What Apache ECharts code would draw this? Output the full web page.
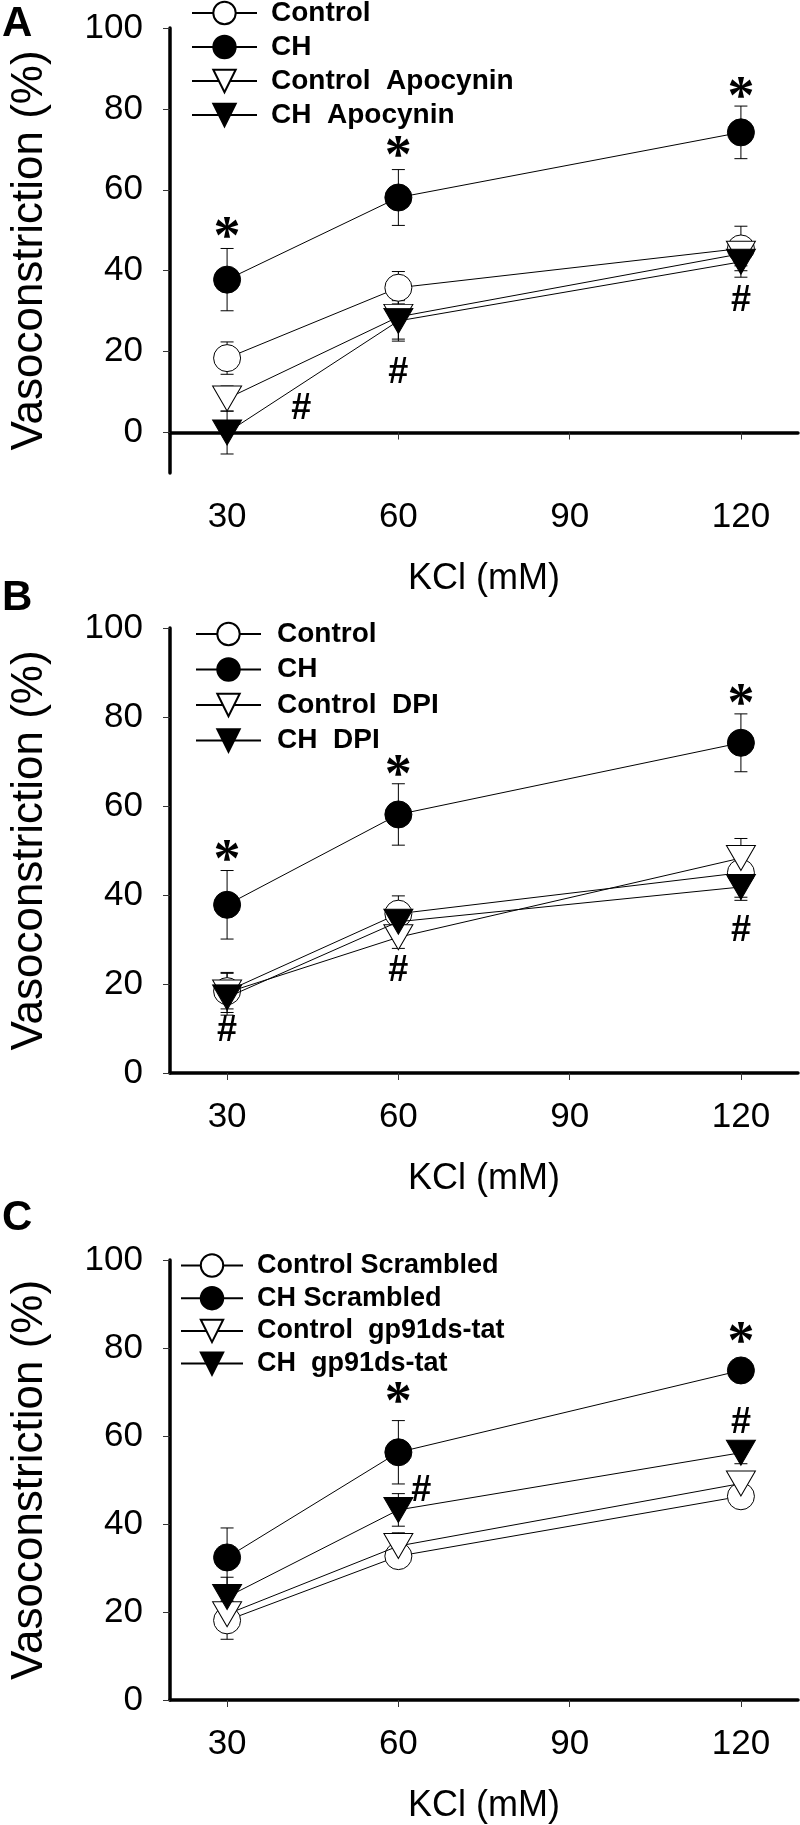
<!DOCTYPE html>
<html>
<head>
<meta charset="utf-8">
<script src="https://cdn.jsdelivr.net/npm/echarts@6/dist/echarts.min.js"></script>
<style>html,body{margin:0;padding:0;background:#fff}#c{width:800px;height:1825px}</style>
</head>
<body>
<div id="c"></div>
<script>
// ---- data ----
const kcl = [30, 60, 120];
const xTicks = [30, 60, 90, 120];
const yTicks = [0, 20, 40, 60, 80, 100];

// Panel A
const namesA = ['Control', 'CH', 'Control  Apocynin', 'CH  Apocynin'];
const A_control = [18.4, 35.8, 45.5];   const A_control_err = [4.0, 4.0, 5.5];
const A_ch = [37.8, 58.1, 74.2];        const A_ch_err = [7.7, 6.9, 6.5];
const A_ctlApo = [8.4, 28.6, 44.2];     const A_ctlApo_err = [3.1, 5.5, 3.0];
const A_chApo = [0.0, 27.6, 42.2];      const A_chApo_err = [5.3, 5.0, 3.8];
const A_stars = [[30, 49.8], [60, 69.8], [120, 84.4]];
const A_hashes = [[43, 5.8], [60, 14.8], [120, 32.4]];

// Panel B
const namesB = ['Control', 'CH', 'Control  DPI', 'CH  DPI'];
const B_control = [18.4, 35.8, 45.0];   const B_control_err = [4.0, 4.0, 5.5];
const B_ch = [37.8, 58.1, 74.2];        const B_ch_err = [7.7, 6.9, 6.5];
const B_ctlDpi = [18.1, 30.5, 48.3];    const B_ctlDpi_err = [4.5, 2.5, 4.4];
const B_chDpi = [17.0, 34.0, 41.8];     const B_chDpi_err = [4.0, 2.0, 3.0];
const B_stars = [[30, 49.1], [60, 68.4], [120, 84.3]];
const B_hashes = [[30, 9.5], [60, 22.8], [120, 31.8]];

// Panel C
const namesC = ['Control Scrambled', 'CH Scrambled', 'Control  gp91ds-tat', 'CH  gp91ds-tat'];
const C_ctlScr = [18.1, 32.7, 46.3];    const C_ctlScr_err = [4.3, 1.5, 1.5];
const C_chScr = [32.4, 56.3, 74.9];     const C_chScr_err = [6.7, 7.2, 1.5];
const C_ctlGp = [19.5, 35.0, 49.2];     const C_ctlGp_err = [3.0, 3.0, 1.5];
const C_chGp = [23.4, 43.2, 56.2];      const C_chGp_err = [4.5, 3.7, 2.5];
const C_stars = [[60, 69.0], [120, 82.7]];
const C_hashes = [[64, 47.5], [120, 63.0]];

// ---- styles ----
const SANS = 'Liberation Sans, Arial, sans-serif';
const SERIF = 'Liberation Serif, Times New Roman, serif';
const TRI_DOWN = 'path://M0,0L2,0L1,1.7Z';
const markerStyles = [
  {symbol: 'circle', symbolSize: 27, color: '#fff'},
  {symbol: 'circle', symbolSize: 27, color: '#000'},
  {symbol: TRI_DOWN, symbolSize: [29, 25], color: '#fff'},
  {symbol: TRI_DOWN, symbolSize: [29, 25], color: '#000'}
];

function lineSeries(name, vals, idx, k) {
  const m = markerStyles[k];
  return {
    type: 'line', name: name, xAxisIndex: idx, yAxisIndex: idx,
    data: kcl.map((x, i) => [x, vals[i]]),
    symbol: m.symbol, symbolSize: m.symbolSize, showSymbol: true,
    lineStyle: {color: '#000', width: 1},
    itemStyle: {color: m.color, borderColor: '#000', borderWidth: 1, opacity: 1},
    z: 3 + k * 0.1, animation: false, clip: false
  };
}
function errSeries(vals, errs, idx) {
  return {
    type: 'custom', xAxisIndex: idx, yAxisIndex: idx, z: 2, animation: false, clip: false,
    silent: true,
    data: kcl.map((x, i) => [x, vals[i], errs[i]]),
    renderItem: function (params, api) {
      const x = api.value(0), y = api.value(1), e = api.value(2);
      const t = api.coord([x, y + e]), b = api.coord([x, y - e]);
      const cw = 6.5;
      const st = {stroke: '#000', lineWidth: 1};
      return {type: 'group', children: [
        {type: 'line', shape: {x1: t[0], y1: t[1], x2: b[0], y2: b[1]}, style: st},
        {type: 'line', shape: {x1: t[0] - cw, y1: t[1], x2: t[0] + cw, y2: t[1]}, style: st},
        {type: 'line', shape: {x1: b[0] - cw, y1: b[1], x2: b[0] + cw, y2: b[1]}, style: st}
      ]};
    }
  };
}
function annoSeries(points, text, idx) {
  const isStar = text === '*';
  return {
    type: 'custom', xAxisIndex: idx, yAxisIndex: idx, z: 5, animation: false, clip: false,
    silent: true,
    data: points,
    renderItem: function (params, api) {
      const p = api.coord([api.value(0), api.value(1)]);
      return {type: 'text', x: p[0], y: p[1] + (isStar ? 8 : 0), style: {
        text: text, fill: '#000',
        font: isStar ? 'bold 54px ' + SERIF : 'bold 36px ' + SANS,
        align: 'center', verticalAlign: 'middle'
      }};
    }
  };
}

const grids = [
  {left: 161, top: 28, width: 637, height: 445},
  {left: 160, top: 628, width: 638, height: 445},
  {left: 160, top: 1260, width: 638, height: 445}
];
const yMins = [-10, 0, 0];

function xAxis(idx) {
  return {
    type: 'value', gridIndex: idx, min: 20, max: 130,
    name: 'KCl (mM)', nameLocation: 'middle', nameGap: 88,
    nameTextStyle: {fontFamily: SANS, fontSize: 36, color: '#000'},
    axisLine: {show: true, onZero: true, lineStyle: {color: '#000', width: 3.5}},
    axisTick: {show: true, length: 7, customValues: xTicks, lineStyle: {color: '#333', width: 1}},
    axisLabel: {customValues: xTicks, fontFamily: SANS, fontSize: 35, color: '#000', margin: 27},
    splitLine: {show: false}
  };
}
function yAxis(idx) {
  return {
    type: 'value', gridIndex: idx, min: yMins[idx], max: 100,
    name: 'Vasoconstriction (%)', nameLocation: 'middle', nameGap: 118,
    nameTextStyle: {fontFamily: SANS, fontSize: 44, color: '#000'},
    axisLine: {show: true, onZero: false, lineStyle: {color: '#000', width: 3.5}},
    axisTick: {show: true, length: 7, customValues: yTicks, lineStyle: {color: '#333', width: 1}},
    axisLabel: {customValues: yTicks, fontFamily: SANS, fontSize: 35, color: '#000', margin: 27},
    splitLine: {show: false}
  };
}
function legend(names, left, top, itemWidth, itemGap, pad, fs) {
  return {
    data: names, orient: 'vertical', left: left, top: top, padding: 0,
    itemWidth: itemWidth, itemHeight: 28, itemGap: itemGap, selectedMode: false,
    textStyle: {fontFamily: SANS, fontWeight: 'bold', fontSize: fs, color: '#000', padding: [0, 0, 0, pad]}
  };
}

const series = [];
const panels = [
  {names: namesA, vals: [A_control, A_ch, A_ctlApo, A_chApo], errs: [A_control_err, A_ch_err, A_ctlApo_err, A_chApo_err], stars: A_stars, hashes: A_hashes},
  {names: namesB, vals: [B_control, B_ch, B_ctlDpi, B_chDpi], errs: [B_control_err, B_ch_err, B_ctlDpi_err, B_chDpi_err], stars: B_stars, hashes: B_hashes},
  {names: namesC, vals: [C_ctlScr, C_chScr, C_ctlGp, C_chGp], errs: [C_ctlScr_err, C_chScr_err, C_ctlGp_err, C_chGp_err], stars: C_stars, hashes: C_hashes}
];
panels.forEach((p, idx) => {
  for (let k = 0; k < 4; k++) series.push(errSeries(p.vals[k], p.errs[k], idx));
  for (let k = 0; k < 4; k++) series.push(lineSeries(p.names[k], p.vals[k], idx, k));
  series.push(annoSeries(p.stars, '*', idx));
  series.push(annoSeries(p.hashes, '#', idx));
});

const chart = echarts.init(document.getElementById('c'), null, {renderer: 'canvas'});
chart.setOption({
  backgroundColor: '#fff',
  animation: false,
  grid: grids,
  xAxis: [0, 1, 2].map(xAxis),
  yAxis: [0, 1, 2].map(yAxis),
  legend: [
    legend(namesA, 191, -1, 65, 6, 9, 28),
    legend(namesB, 195, 620, 65, 7.5, 11, 28),
    legend(namesC, 180, 1252, 62, 5.7, 9, 27)
  ],
  graphic: [
    {type: 'text', left: 2, top: 3, style: {text: 'A', font: 'bold 42px ' + SANS, fill: '#000'}},
    {type: 'text', left: 2, top: 577, style: {text: 'B', font: 'bold 42px ' + SANS, fill: '#000'}},
    {type: 'text', left: 2, top: 1197, style: {text: 'C', font: 'bold 42px ' + SANS, fill: '#000'}}
  ],
  series: series
});
</script>
</body>
</html>
